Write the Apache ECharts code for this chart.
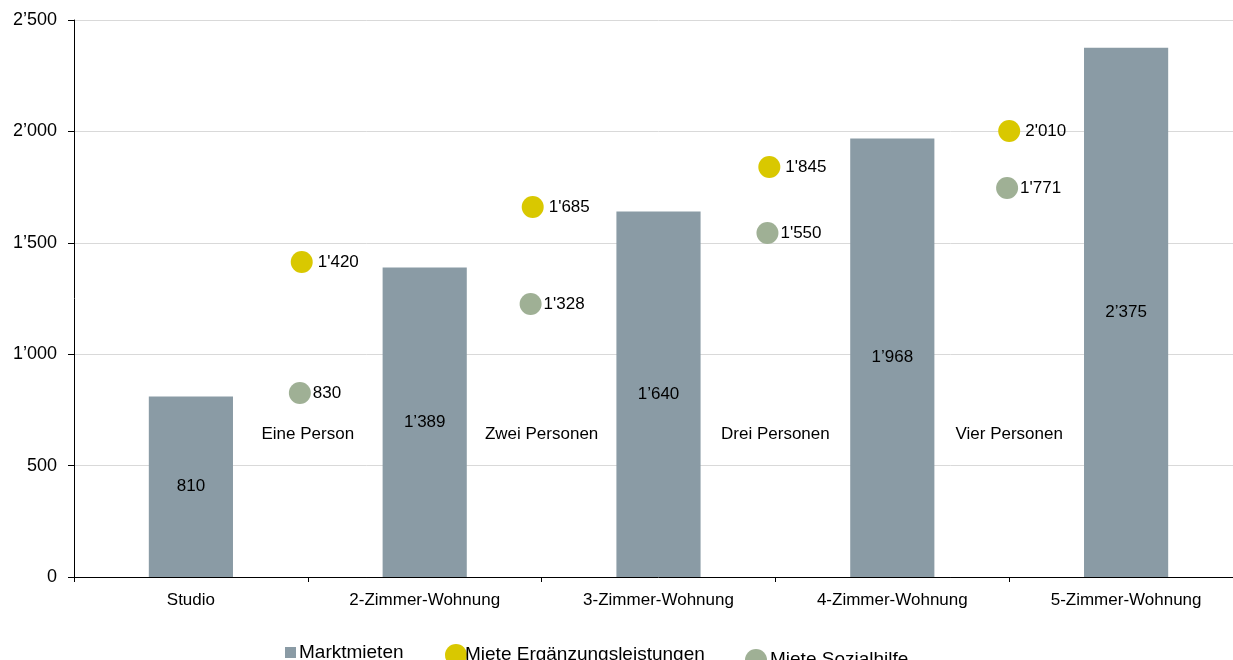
<!DOCTYPE html>
<html>
<head>
<meta charset="utf-8">
<script src="https://cdn.jsdelivr.net/npm/echarts@6/dist/echarts.min.js"></script>
<style>
  html, body { margin: 0; padding: 0; background: #fff; overflow: hidden; }
  #chart { width: 1243px; height: 660px; }
</style>
</head>
<body>
<div id="chart"></div>
<script>
// wohnungsgrössen (balken)
var categories = ['Studio', '2-Zimmer-Wohnung', '3-Zimmer-Wohnung', '4-Zimmer-Wohnung', '5-Zimmer-Wohnung'];
var marktmieten = [810, 1389, 1640, 1968, 2375];

// haushaltsgrössen (punkte zwischen den balken)
var personen = ['Eine Person', 'Zwei Personen', 'Drei Personen', 'Vier Personen'];
// beschriftete werte
var ergLeistungen = [1420, 1685, 1845, 2010];
var sozialhilfe = [830, 1328, 1550, 1771];
// so wie die punkte im bild liegen (weicht teils von der beschriftung ab)
var ergLeistungenPos = [1414, 1661, 1840, 2002];
var sozialhilfePos = [826, 1225, 1544, 1746];
var ergLeistungenX = [0.974, 1.962, 2.974, 4.0];
var sozialhilfeX = [0.966, 1.953, 2.966, 3.991];
var personenX = [1, 2, 3, 4];
var personenLabelY = 640;

var yTicks = [0, 500, 1000, 1500, 2000, 2500];

function fmt(v, sep) {
  var s = String(Math.round(v));
  return s.length > 3 ? s.slice(0, s.length - 3) + sep + s.slice(-3) : s;
}

var chart = echarts.init(document.getElementById('chart'));
var font = 'Liberation Sans, Arial, sans-serif';

chart.setOption({
  animation: false,
  textStyle: { fontFamily: font },
  // plot reicht rechts über den bildrand hinaus (wie im original)
  grid: { left: 74, top: 20, right: 0, bottom: 83 },
  legend: [
    {
      left: 280, top: 638,
      data: [{ name: 'Marktmieten', icon: 'rect' }],
      itemWidth: 11, itemHeight: 11,
      textStyle: { fontSize: 19, color: '#000', fontFamily: font, padding: [0, 0, 0, -2] }
    },
    {
      left: 440, top: 639,
      data: [{ name: 'Miete Ergänzungsleistungen', icon: 'circle' }],
      itemWidth: 22, itemHeight: 22,
      textStyle: { fontSize: 19, color: '#000', fontFamily: font, padding: [0, 0, 0, -7] }
    },
    {
      left: 740, top: 644,
      data: [{ name: 'Miete Sozialhilfe', icon: 'circle' }],
      itemWidth: 22, itemHeight: 22,
      textStyle: { fontSize: 19, color: '#000', fontFamily: font, padding: [0, 0, 0, -2] }
    }
  ],
  xAxis: [
    {
      type: 'category',
      data: categories,
      boundaryGap: true,
      axisLine: { lineStyle: { color: '#000', width: 1 } },
      axisTick: { show: true, length: 5, lineStyle: { color: '#000' } },
      axisLabel: { color: '#000', fontSize: 17, margin: 15 }
    },
    {
      type: 'value',
      min: 0, max: 5,
      show: false
    }
  ],
  yAxis: {
    type: 'value',
    min: yTicks[0], max: yTicks[yTicks.length - 1], interval: 500,
    axisLine: { show: true, lineStyle: { color: '#000' } },
    axisTick: { show: true, length: 6, lineStyle: { color: '#000' } },
    axisLabel: { color: '#000', fontSize: 18, margin: 17, formatter: function (v) { return fmt(v, '\u2019'); } },
    splitLine: { lineStyle: { color: '#d9d9d9' } }
  },
  series: [
    {
      name: 'Marktmieten',
      type: 'bar',
      xAxisIndex: 0,
      barWidth: '36%',
      data: marktmieten,
      itemStyle: { color: '#8a9ba5' },
      label: {
        show: true, position: 'inside', color: '#000', fontSize: 17,
        formatter: function (p) { return fmt(p.value, '\u2019'); }
      }
    },
    {
      name: 'Miete Ergänzungsleistungen',
      type: 'scatter',
      xAxisIndex: 1,
      symbolSize: 22,
      data: ergLeistungenPos.map(function (v, i) { return [ergLeistungenX[i], v, ergLeistungen[i]]; }),
      itemStyle: { color: '#d9c800', opacity: 1 },
      label: {
        show: true, position: 'right', distance: 5, color: '#000', fontSize: 17,
        formatter: function (p) { return fmt(p.value[2], "'"); }
      }
    },
    {
      name: 'Miete Sozialhilfe',
      type: 'scatter',
      xAxisIndex: 1,
      symbolSize: 22,
      data: sozialhilfePos.map(function (v, i) { return [sozialhilfeX[i], v, sozialhilfe[i]]; }),
      itemStyle: { color: '#9fb095', opacity: 1 },
      label: {
        show: true, position: 'right', distance: 2, color: '#000', fontSize: 17,
        formatter: function (p) { return fmt(p.value[2], "'"); }
      }
    },
    {
      name: 'personen',
      type: 'scatter',
      xAxisIndex: 1,
      symbolSize: 1,
      silent: true,
      itemStyle: { color: 'rgba(255,255,255,0)', opacity: 1 },
      data: personen.map(function (n, i) { return { name: n, value: [personenX[i], personenLabelY] }; }),
      label: {
        show: true, position: 'inside', color: '#000', opacity: 1, fontSize: 17, textBorderWidth: 0,
        formatter: function (p) { return p.name; }
      }
    }
  ]
});
</script>
</body>
</html>
